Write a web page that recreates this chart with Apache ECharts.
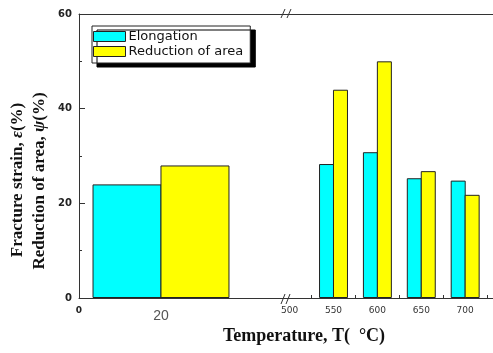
<!DOCTYPE html>
<html>
<head>
<meta charset="utf-8">
<script src="https://cdn.jsdelivr.net/npm/echarts@6/dist/echarts.min.js"></script>
<style>
  html, body { margin: 0; padding: 0; background: #fff; }
  #chart { width: 493px; height: 353px; }
</style>
</head>
<body>
<div id="chart"></div>
<script>
// data
var leftTemps = [20];
var rightTemps = [550, 600, 650, 700];
var elongLeft = [24];
var reductionLeft = [28];
var elongRight = [28.3, 30.8, 25.3, 24.8];
var reductionRight = [44, 50, 26.8, 21.8];
var leftLabels = [0, 20];
var rightLabels = [500, 550, 600, 650, 700];
var rightTicks = [525, 575, 625, 675, 725];
var yTicks = [0, 20, 40, 60];

function pairs(xs, ys) {
  return xs.map(function (x, i) { return [x, ys[i]]; });
}

var chart = echarts.init(document.getElementById('chart'));

var lineStyle = { color: '#333', width: 1 };
var barBorder = { borderColor: '#222', borderWidth: 1 };

var option = {
  animation: false,
  backgroundColor: '#fff',
  legend: {
    data: ['Elongation', 'Reduction of area'],
    orient: 'vertical',
    icon: 'rect',
    left: 92,
    top: 26,
    padding: [4, 7, 5, 1],
    itemGap: 2,
    itemWidth: 32,
    itemHeight: 10,
    backgroundColor: '#fff',
    borderColor: '#222',
    borderWidth: 1,
    borderRadius: 0,
    shadowColor: '#000',
    shadowBlur: 0,
    shadowOffsetX: 5,
    shadowOffsetY: 4,
    itemStyle: { borderColor: '#222', borderWidth: 1 },
    textStyle: { fontFamily: 'DejaVu Sans', fontSize: 13, color: '#111', padding: [0, 0, 0, -2] }
  },
  grid: [
    { left: 79, top: 14, width: 205, bottom: 55 },
    { left: 284, top: 14, right: -2, bottom: 55 }
  ],
  xAxis: [
    {
      gridIndex: 0, type: 'value', min: 0, max: 50,
      axisLine: { lineStyle: lineStyle },
      axisTick: { show: false },
      splitLine: { show: false },
      axisLabel: {
        customValues: leftLabels,
        margin: 8,
        formatter: function (v) { return v === 0 ? '{s|0}' : '{b|' + v + '}'; },
        rich: {
          s: { fontFamily: 'DejaVu Sans', fontWeight: 'bold', fontSize: 9, color: '#222' },
          b: { fontFamily: 'Liberation Sans', fontSize: 14, color: '#555', padding: [3, 0, 0, 0] }
        }
      }
    },
    {
      gridIndex: 0, type: 'value', min: 0, max: 50, position: 'top',
      axisLine: { lineStyle: lineStyle },
      axisTick: { show: false }, axisLabel: { show: false }, splitLine: { show: false }
    },
    {
      gridIndex: 1, type: 'value', min: 493.6, max: 731.7,
      axisLine: { lineStyle: lineStyle },
      axisTick: { customValues: rightTicks, inside: true, length: 3, lineStyle: lineStyle },
      splitLine: { show: false },
      axisLabel: {
        customValues: rightLabels,
        margin: 8,
        fontFamily: 'DejaVu Sans', fontSize: 9, color: '#333'
      }
    },
    {
      gridIndex: 1, type: 'value', min: 493.6, max: 731.7, position: 'top',
      axisLine: { lineStyle: lineStyle },
      axisTick: { show: false }, axisLabel: { show: false }, splitLine: { show: false }
    }
  ],
  yAxis: [
    {
      gridIndex: 0, type: 'value', min: 0, max: 60, interval: 20,
      axisLine: { show: true, lineStyle: lineStyle },
      axisTick: { inside: true, length: 6, lineStyle: lineStyle },
      minorTick: { show: true, splitNumber: 2, length: 3, lineStyle: lineStyle },
      splitLine: { show: false },
      axisLabel: {
        customValues: yTicks,
        margin: 7,
        fontFamily: 'DejaVu Sans', fontWeight: 'bold', fontSize: 10, color: '#222'
      }
    },
    {
      gridIndex: 1, type: 'value', min: 0, max: 60, show: false
    }
  ],
  series: [
    {
      name: 'Elongation', type: 'bar', xAxisIndex: 0, yAxisIndex: 0,
      barWidth: 69, barGap: '-1.5%',
      itemStyle: Object.assign({ color: '#00ffff' }, barBorder),
      data: pairs(leftTemps, elongLeft)
    },
    {
      name: 'Reduction of area', type: 'bar', xAxisIndex: 0, yAxisIndex: 0,
      barWidth: 69, barGap: '-1.5%',
      itemStyle: Object.assign({ color: '#ffff00' }, barBorder),
      data: pairs(leftTemps, reductionLeft)
    },
    {
      name: 'Elongation', type: 'bar', xAxisIndex: 2, yAxisIndex: 1,
      barWidth: 15, barGap: '-7%',
      itemStyle: Object.assign({ color: '#00ffff' }, barBorder),
      data: pairs(rightTemps, elongRight)
    },
    {
      name: 'Reduction of area', type: 'bar', xAxisIndex: 2, yAxisIndex: 1,
      barWidth: 15, barGap: '-7%',
      itemStyle: Object.assign({ color: '#ffff00' }, barBorder),
      data: pairs(rightTemps, reductionRight)
    }
  ],
  graphic: [
    // axis titles
    {
      type: 'text', x: 18, y: 180, rotation: Math.PI / 2,
      style: {
        text: 'Fracture strain, {g|ε}(%)',
        font: 'bold 17px "Liberation Serif"', fill: '#111',
        textAlign: 'center', textVerticalAlign: 'middle',
        rich: { g: { font: 'italic bold 17px "Liberation Serif"', fill: '#111' } }
      }
    },
    {
      type: 'text', x: 40, y: 181, rotation: Math.PI / 2,
      style: {
        text: 'Reduction of area, {g|ψ}(%)',
        font: 'bold 17px "Liberation Serif"', fill: '#111',
        textAlign: 'center', textVerticalAlign: 'middle',
        rich: { g: { font: 'italic bold 17px "Liberation Serif"', fill: '#111' } }
      }
    },
    {
      type: 'text', x: 304, y: 336,
      style: {
        text: 'Temperature, T(  °C)',
        font: 'bold 18px "Liberation Serif"', fill: '#111',
        textAlign: 'center', textVerticalAlign: 'middle'
      }
    },
    // axis break marks
    { type: 'line', shape: { x1: 281, y1: 304, x2: 285, y2: 294 }, style: { stroke: '#333', lineWidth: 1 } },
    { type: 'line', shape: { x1: 286, y1: 304, x2: 290, y2: 294 }, style: { stroke: '#333', lineWidth: 1 } },
    { type: 'line', shape: { x1: 281, y1: 18, x2: 285, y2: 9 }, style: { stroke: '#333', lineWidth: 1 } },
    { type: 'line', shape: { x1: 287, y1: 18, x2: 291, y2: 9 }, style: { stroke: '#333', lineWidth: 1 } }
  ]
};

chart.setOption(option);
</script>
</body>
</html>
